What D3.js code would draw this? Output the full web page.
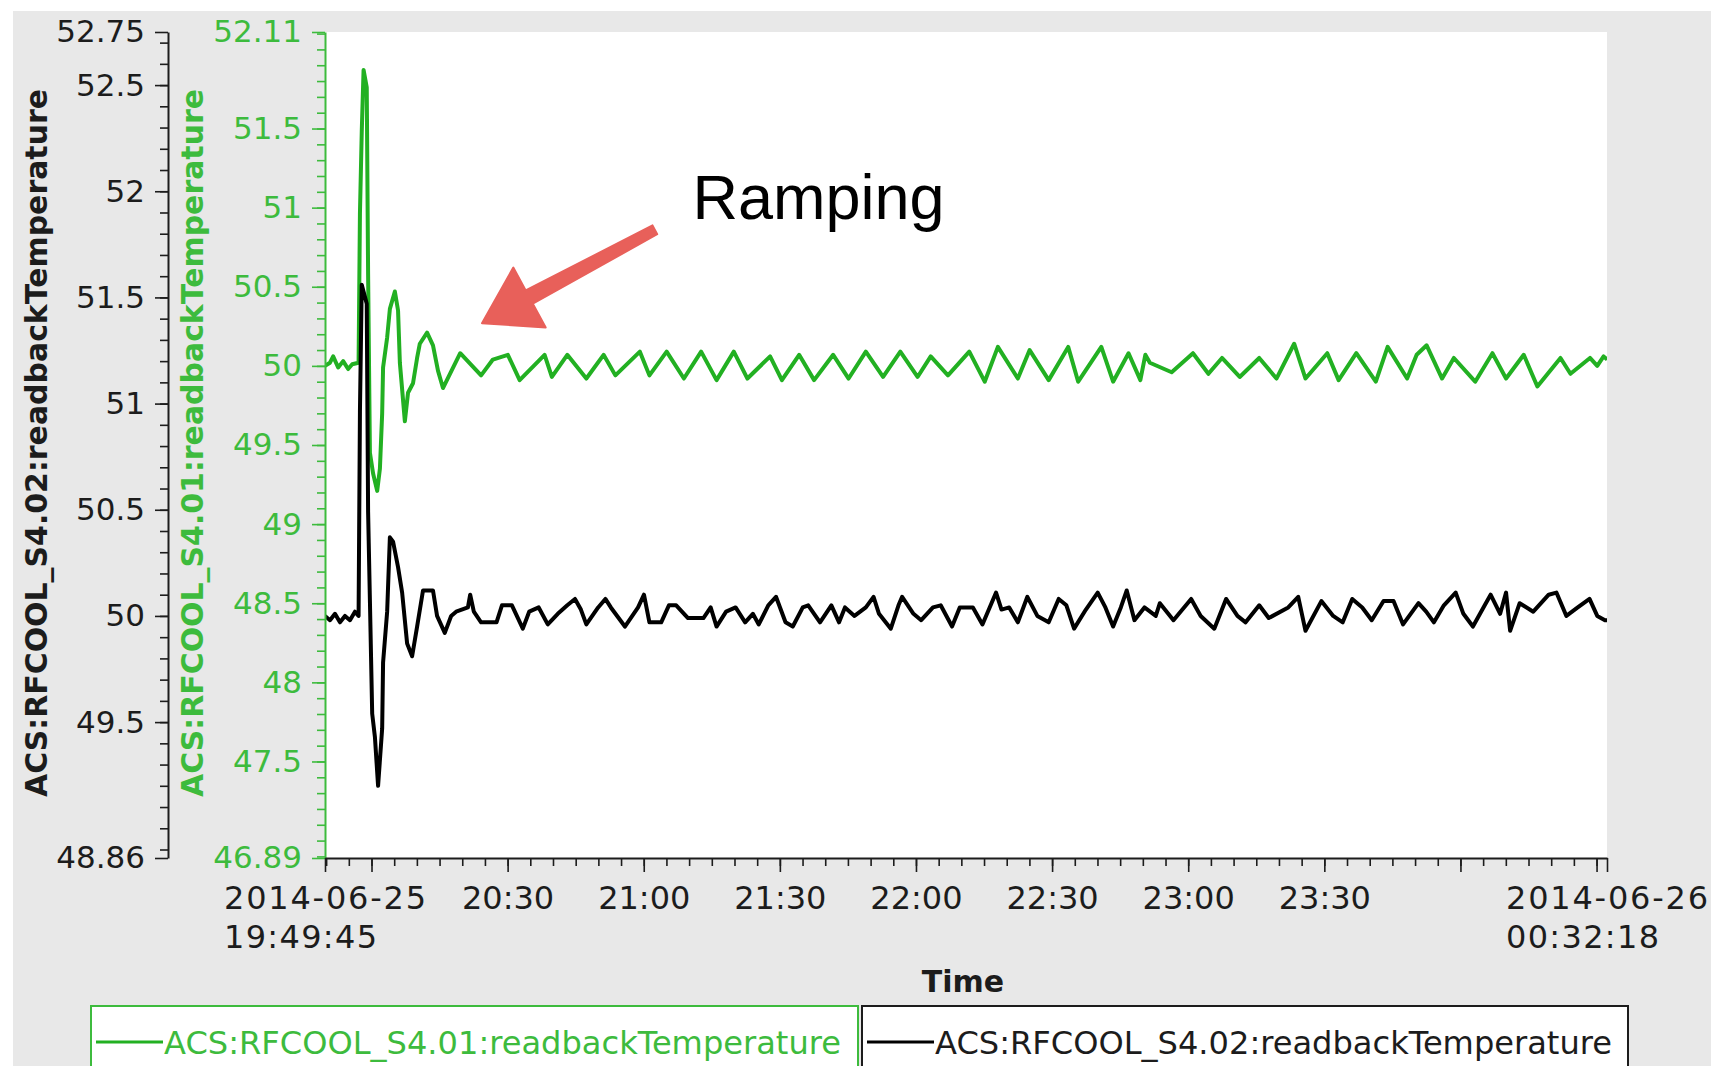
<!DOCTYPE html>
<html>
<head>
<meta charset="utf-8">
<script src="https://cdn.jsdelivr.net/npm/d3@7"></script>
<style>
  html, body { margin: 0; padding: 0; background: #fff; }
  svg { display: block; }
  text { font-family: "DejaVu Sans", sans-serif; }
</style>
</head>
<body>
<svg width="1711" height="1066"></svg>
<script>
// series + axis info
var seriesNames = ["ACS:RFCOOL_S4.01:readbackTemperature", "ACS:RFCOOL_S4.02:readbackTemperature"];
var startTime = "2014-06-25 19:49:45";
var endTime = "2014-06-26 00:32:18";
var greenDomain = [46.89, 52.11];
var blackDomain = [48.86, 52.75];
var greenTicks = [46.89, 47.5, 48, 48.5, 49, 49.5, 50, 50.5, 51, 51.5, 52.11];
var blackTicks = [48.86, 49.5, 50, 50.5, 51, 51.5, 52, 52.5, 52.75];
var timeTickLabels = ["20:30", "21:00", "21:30", "22:00", "22:30", "23:00", "23:30"];

// minutes after start time, and temperature
var greenMin = [0, 1.1, 1.8, 2.9, 4.0, 5.1, 6.0, 7.4, 7.7, 8.1,
  8.5, 9.2, 9.5, 9.9, 10.6, 11.5, 12.1, 12.6, 12.8, 13.7,
  14.3, 15.4, 16.1, 16.5, 17.6, 18.3, 19.4, 20.3, 20.9, 22.5,
  23.8, 24.9, 26.0, 29.8, 34.4, 37.0, 40.3, 42.9, 48.4, 50.0,
  53.4, 57.6, 61.4, 64.0, 69.4, 71.5, 75.3, 79.1, 82.9, 86.3,
  90.1, 93.1, 98.1, 100.7, 104.5, 107.8, 112.0, 115.4, 119.2, 123.0,
  126.8, 130.6, 133.5, 137.3, 142.0, 145.4, 148.3, 152.7, 155.3, 159.5,
  163.8, 166.0, 171.1, 173.7, 177.1, 179.7, 180.8, 181.8, 186.6, 191.3,
  194.7, 197.7, 201.6, 205.9, 209.7, 213.6, 216.1, 220.9, 223.4, 227.3,
  231.6, 234.2, 238.5, 240.6, 242.8, 246.2, 248.8, 253.5, 257.3, 260.3,
  264.2, 267.2, 272.3, 274.5, 278.8, 280.4, 281.8, 282.6];
var greenVal = [50.00, 50.02, 50.06, 49.99, 50.03, 49.98, 50.01, 50.02, 50.96, 51.48,
  51.87, 51.76, 50.58, 49.45, 49.32, 49.21, 49.35, 49.70, 49.99, 50.18,
  50.36, 50.47, 50.35, 50.02, 49.65, 49.83, 49.89, 50.05, 50.14, 50.21,
  50.13, 49.97, 49.86, 50.08, 49.94, 50.04, 50.07, 49.91, 50.07, 49.93,
  50.07, 49.92, 50.07, 49.94, 50.09, 49.94, 50.09, 49.92, 50.09, 49.91,
  50.09, 49.92, 50.06, 49.91, 50.07, 49.91, 50.07, 49.92, 50.09, 49.93,
  50.09, 49.93, 50.06, 49.94, 50.09, 49.90, 50.12, 49.92, 50.10, 49.91,
  50.12, 49.90, 50.12, 49.90, 50.08, 49.91, 50.07, 50.02, 49.96, 50.08,
  49.95, 50.05, 49.93, 50.05, 49.92, 50.14, 49.92, 50.08, 49.91, 50.08,
  49.90, 50.12, 49.92, 50.07, 50.13, 49.92, 50.05, 49.90, 50.08, 49.92,
  50.07, 49.87, 50.05, 49.95, 50.05, 50.00, 50.06, 50.04];

var blackMin = [0, 1.1, 2.2, 3.3, 4.4, 5.5, 6.6, 7.4, 7.7, 8.1,
  9.2, 9.5, 9.9, 10.4, 11.0, 11.7, 12.6, 12.8, 13.7, 14.3,
  15.0, 16.1, 17.0, 18.1, 19.2, 20.3, 21.6, 23.8, 24.7, 26.4,
  27.8, 28.9, 31.5, 32.0, 32.8, 34.4, 37.8, 39.0, 41.2, 43.6,
  45.0, 47.1, 49.1, 51.3, 53.4, 55.1, 56.4, 57.6, 60.2, 61.8,
  63.0, 66.1, 69.0, 70.3, 71.5, 74.1, 75.8, 77.4, 80.0, 83.4,
  85.0, 86.3, 88.4, 90.5, 92.6, 94.3, 95.6, 97.7, 99.4, 101.5,
  103.1, 105.3, 106.5, 109.1, 111.6, 113.3, 114.6, 116.7, 119.2, 120.9,
  122.1, 124.7, 126.4, 127.2, 129.7, 131.4, 134.0, 135.7, 138.2, 139.9,
  142.8, 144.9, 147.9, 149.1, 150.8, 152.7, 154.8, 157.0, 159.5, 161.7,
  163.4, 165.1, 167.7, 170.3, 172.0, 173.7, 175.4, 176.7, 178.4, 180.6,
  183.1, 184.0, 187.0, 190.9, 193.0, 196.0, 198.6, 201.1, 202.9, 205.9,
  208.0, 212.3, 214.5, 216.1, 219.6, 222.2, 224.3, 226.4, 228.6, 230.7,
  233.3, 235.5, 237.6, 241.0, 242.7, 244.4, 246.6, 249.2, 250.9, 253.0,
  255.6, 256.9, 259.0, 260.3, 261.2, 263.3, 266.3, 269.7, 271.4, 273.6,
  276.1, 278.7, 280.4, 282.1, 282.6];
var blackVal = [50.00, 49.98, 50.01, 49.97, 50.00, 49.98, 50.02, 50.00, 50.96, 51.56,
  51.47, 50.49, 50.07, 49.54, 49.43, 49.20, 49.47, 49.78, 50.02, 50.37,
  50.35, 50.23, 50.11, 49.87, 49.81, 49.95, 50.12, 50.12, 50.00, 49.92,
  50.00, 50.02, 50.04, 50.10, 50.02, 49.97, 49.97, 50.05, 50.05, 49.94,
  50.02, 50.04, 49.96, 50.01, 50.05, 50.08, 50.03, 49.96, 50.04, 50.08,
  50.04, 49.95, 50.04, 50.10, 49.97, 49.97, 50.05, 50.05, 49.99, 49.99,
  50.04, 49.95, 50.02, 50.04, 49.97, 50.01, 49.96, 50.05, 50.09, 49.97,
  49.95, 50.04, 50.05, 49.97, 50.05, 49.97, 50.04, 50.00, 50.04, 50.09,
  50.01, 49.94, 50.05, 50.09, 50.01, 49.98, 50.04, 50.05, 49.95, 50.04,
  50.04, 49.96, 50.11, 50.03, 50.04, 49.97, 50.09, 50.00, 49.97, 50.08,
  50.05, 49.94, 50.03, 50.11, 50.04, 49.95, 50.04, 50.12, 49.98, 50.04,
  50.00, 50.06, 49.98, 50.08, 50.00, 49.94, 50.08, 50.00, 49.97, 50.05,
  49.99, 50.04, 50.09, 49.93, 50.07, 50.00, 49.97, 50.08, 50.04, 49.98,
  50.07, 50.07, 49.96, 50.06, 50.02, 49.97, 50.05, 50.11, 50.01, 49.95,
  50.05, 50.10, 50.01, 50.11, 49.93, 50.06, 50.02, 50.10, 50.11, 50.00,
  50.04, 50.08, 50.00, 49.98, 49.98];

// annotation, in data coordinates (minutes, green axis value)
var noteText = "Ramping";
var noteAt = [81.0, 50.93];
var arrowTail = [72.7, 50.86];
var arrowTip = [34.6, 50.27];

var GREEN = "#22b022";
var GREEN_AXIS = "#3dbb3d";
var INK = "#1c1c1c";

var svg = d3.select("svg");
var width = +svg.attr("width");
var height = +svg.attr("height");

var plotL = 325, plotR = 1607, plotT = 32, plotB = 858;

var parse = d3.timeParse("%Y-%m-%d %H:%M:%S");
var t0 = parse(startTime), t1 = parse(endTime);
var at = function(m) { return new Date(t0.getTime() + m * 60000); };

var x = d3.scaleTime().domain([t0, t1]).range([plotL, plotR]);
var yGreen = d3.scaleLinear().domain(greenDomain).range([plotB, plotT]);
var yBlack = d3.scaleLinear().domain(blackDomain).range([plotB, plotT]);

// backgrounds
svg.append("rect").attr("width", width).attr("height", height).attr("fill", "#fff");
svg.append("rect").attr("x", 13).attr("y", 11).attr("width", width - 13).attr("height", height - 11).attr("fill", "#e8e8e8");
svg.append("rect").attr("x", plotL).attr("y", plotT).attr("width", plotR - plotL).attr("height", plotB - plotT).attr("fill", "#fff");

svg.append("defs").append("clipPath").attr("id", "plot")
  .append("rect").attr("x", plotL).attr("y", plotT).attr("width", plotR - plotL).attr("height", plotB - plotT);

// lines, green under black
var greenPts = greenMin.map(function(m, i) { return { t: at(m), v: greenVal[i] }; });
var blackPts = blackMin.map(function(m, i) { return { t: at(m), v: blackVal[i] }; });

var lineG = d3.line().x(function(d) { return x(d.t); }).y(function(d) { return yGreen(d.v); });
var lineB = d3.line().x(function(d) { return x(d.t); }).y(function(d) { return yBlack(d.v); });

var lines = svg.append("g").attr("clip-path", "url(#plot)");
lines.append("path").datum(greenPts).attr("d", lineG)
  .attr("fill", "none").attr("stroke", GREEN).attr("stroke-width", 4).attr("stroke-linejoin", "round");
lines.append("path").datum(blackPts).attr("d", lineB)
  .attr("fill", "none").attr("stroke", "#000").attr("stroke-width", 4).attr("stroke-linejoin", "round");

// y axes: major + minor ticks
function yAxis(scale, xPos, ticks, color) {
  var g = svg.append("g").attr("transform", "translate(" + xPos + ",0)");
  g.append("g")
    .call(d3.axisLeft(scale).tickValues(scale.ticks(40)).tickSize(8).tickSizeOuter(0).tickFormat(""))
    .call(function(s) { s.select(".domain").remove(); });
  var major = g.append("g")
    .call(d3.axisLeft(scale).tickValues(ticks).tickSize(13).tickSizeOuter(0).tickPadding(10)
      .tickFormat(function(d) { return String(d); }));
  g.selectAll("line").attr("stroke", color).attr("stroke-width", 1.6);
  major.select(".domain").attr("stroke", color).attr("stroke-width", 2);
  major.selectAll("text").attr("fill", color).style("font-size", "31px").style("font-family", "DejaVu Sans");
  return g;
}
yAxis(yBlack, 168, blackTicks, INK);
yAxis(yGreen, plotL, greenTicks, GREEN_AXIS);

// x axis
var fmt = d3.timeFormat("%H:%M");
var xg = svg.append("g").attr("transform", "translate(0," + plotB + ")");
xg.append("g")
  .call(d3.axisBottom(x).tickValues(x.ticks(d3.timeMinute.every(5))).tickSize(8).tickSizeOuter(0).tickFormat(""))
  .call(function(s) { s.select(".domain").remove(); });
var majorTimes = [t0].concat(x.ticks(d3.timeMinute.every(30)), [t1]);
var xMajor = xg.append("g")
  .call(d3.axisBottom(x).tickValues(majorTimes).tickSize(14).tickSizeOuter(0).tickPadding(14)
    .tickFormat(function(d) { var s = fmt(d); return timeTickLabels.indexOf(s) >= 0 && d !== t0 && d !== t1 ? s : ""; }));
xg.selectAll("line").attr("stroke", INK).attr("stroke-width", 1.6);
xMajor.select(".domain").attr("stroke", INK).attr("stroke-width", 2);
xMajor.selectAll("text").attr("fill", INK).style("font-size", "32px");

// two-line end labels, lines left aligned, block centred on the tick
[[t0, d3.timeFormat("%Y-%m-%d")(t0), d3.timeFormat("%H:%M:%S")(t0)],
 [t1, d3.timeFormat("%Y-%m-%d")(t1), d3.timeFormat("%H:%M:%S")(t1)]].forEach(function(e) {
  var txt = xg.append("text").attr("fill", INK).style("font-size", "32px");
  var w = 202;
  var x0 = x(e[0]) - w / 2;
  txt.append("tspan").text(e[1]).attr("x", x0).attr("y", 28).attr("dy", "0.71em")
    .attr("textLength", w).attr("lengthAdjust", "spacing");
  txt.append("tspan").text(e[2]).attr("x", x0).attr("y", 67).attr("dy", "0.71em")
    .attr("textLength", 153).attr("lengthAdjust", "spacing");
});

// axis titles
function yTitle(cx, label, color) {
  svg.append("text")
    .attr("transform", "translate(" + cx + ",443) rotate(-90)")
    .attr("text-anchor", "middle").attr("dominant-baseline", "central")
    .attr("fill", color).style("font-size", "30px").style("font-weight", "bold")
    .attr("textLength", 708).attr("lengthAdjust", "spacingAndGlyphs")
    .text(label);
}
yTitle(36, seriesNames[1], INK);
yTitle(192, seriesNames[0], GREEN_AXIS);

svg.append("text").attr("x", 963).attr("y", 981)
  .attr("text-anchor", "middle").attr("dominant-baseline", "central")
  .attr("fill", INK).style("font-size", "30px").style("font-weight", "bold")
  .text("Time");

// legend
var legend = [
  { name: seriesNames[0], color: GREEN, border: GREEN_AXIS, text: GREEN_AXIS, x: 91, w: 767 },
  { name: seriesNames[1], color: "#000", border: INK, text: INK, x: 862, w: 766 }
];
var lg = svg.append("g").selectAll("g").data(legend).enter().append("g")
  .attr("transform", function(d) { return "translate(" + d.x + ",1006)"; });
lg.append("rect").attr("width", function(d) { return d.w; }).attr("height", 90)
  .attr("fill", "#fff").attr("stroke", function(d) { return d.border; }).attr("stroke-width", 2);
lg.append("line").attr("x1", 5).attr("x2", 72).attr("y1", 36).attr("y2", 36)
  .attr("stroke", function(d) { return d.color; }).attr("stroke-width", 3);
lg.append("text").attr("x", 73).attr("y", 37).attr("dominant-baseline", "central")
  .attr("fill", function(d) { return d.text; }).style("font-size", "32px")
  .attr("textLength", 677).attr("lengthAdjust", "spacingAndGlyphs")
  .text(function(d) { return d.name; });

// hand drawn looking arrow + note
var tip = [x(at(arrowTip[0])), yGreen(arrowTip[1])];
var tail = [x(at(arrowTail[0])), yGreen(arrowTail[1])];
var dx = tip[0] - tail[0], dy = tip[1] - tail[1], len = Math.hypot(dx, dy);
var ux = dx / len, uy = dy / len, nx = -uy, ny = ux;
var headLen = 54, headHalf = 34;
var bx = tip[0] - ux * headLen, by = tip[1] - uy * headLen;
var pts = [
  [tail[0] + nx * 5, tail[1] + ny * 5],
  [bx + nx * 8, by + ny * 8],
  [bx + nx * headHalf, by + ny * headHalf],
  tip,
  [bx - nx * headHalf, by - ny * headHalf],
  [bx - nx * 7, by - ny * 7],
  [tail[0] - nx * 5, tail[1] - ny * 5]
];
svg.append("path")
  .attr("d", "M" + pts.map(function(p) { return (+p[0]).toFixed(1) + "," + (+p[1]).toFixed(1); }).join("L") + "Z")
  .attr("fill", "#e8605a").attr("stroke", "#e8605a").attr("stroke-width", 2).attr("stroke-linejoin", "round");

svg.append("text").attr("x", x(at(noteAt[0]))).attr("y", yGreen(noteAt[1]))
  .style("font-family", "'Liberation Sans', Arial, sans-serif").style("font-size", "63px")
  .attr("fill", "#000").text(noteText);
</script>
</body>
</html>
